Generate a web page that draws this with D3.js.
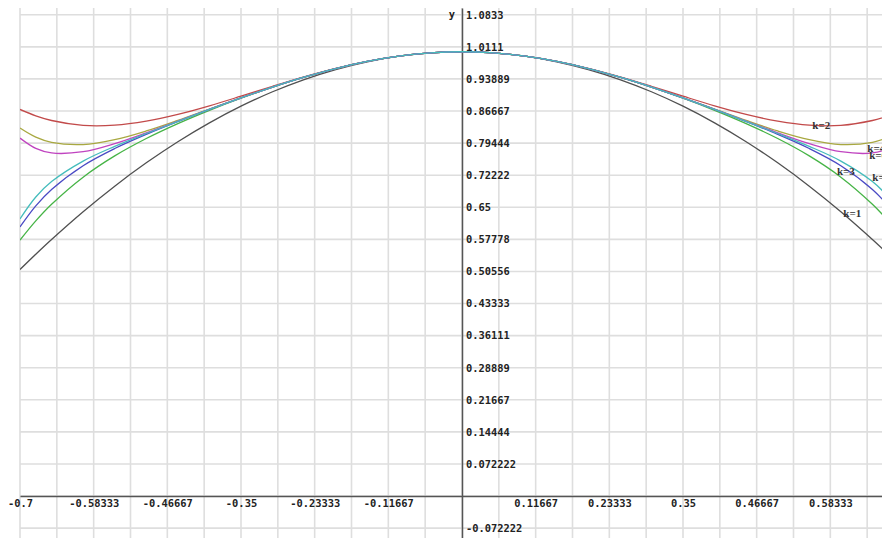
<!DOCTYPE html>
<html><head><meta charset="utf-8">
<script src="https://cdn.jsdelivr.net/npm/d3@7"></script>
<style>body{margin:0;background:#fff;overflow:hidden}svg{display:block}</style>
</head><body>
<svg id="c" width="882" height="538"></svg>
<script>
// sample x positions
const xs = [-0.7,-0.675,-0.65,-0.6,-0.55,-0.5,-0.45,-0.4,-0.35,-0.3,-0.25,-0.2,-0.15,-0.1,-0.05,0,0.05,0.1,0.15,0.2,0.25,0.3,0.35,0.4,0.45,0.5,0.55,0.6,0.65,0.675,0.7];
// series values (k = 1..7)
const k1 = [0.51,0.5444,0.5775,0.64,0.6975,0.75,0.7975,0.84,0.8775,0.91,0.9375,0.96,0.9775,0.99,0.9975,1,0.9975,0.99,0.9775,0.96,0.9375,0.91,0.8775,0.84,0.7975,0.75,0.6975,0.64,0.5775,0.5444,0.51];
const k2 = [0.8702,0.8558,0.8453,0.8344,0.8348,0.8438,0.8590,0.8784,0.9000,0.9222,0.9434,0.9624,0.9783,0.9902,0.9975,1,0.9975,0.9902,0.9783,0.9624,0.9434,0.9222,0.9000,0.8784,0.8590,0.8438,0.8348,0.8344,0.8453,0.8558,0.8702];
const k3 = [0.5760,0.6193,0.6567,0.7178,0.7656,0.8047,0.8383,0.8682,0.8954,0.9203,0.9427,0.9622,0.9782,0.9901,0.9975,1,0.9975,0.9901,0.9782,0.9622,0.9427,0.9203,0.8954,0.8682,0.8383,0.8047,0.7656,0.7178,0.6567,0.6193,0.5760];
const k4 = [0.8282,0.8078,0.7961,0.7912,0.8022,0.8218,0.8456,0.8710,0.8964,0.9206,0.9428,0.9623,0.9782,0.9901,0.9975,1,0.9975,0.9901,0.9782,0.9623,0.9428,0.9206,0.8964,0.8710,0.8456,0.8218,0.8022,0.7912,0.7961,0.8078,0.8282];
const k5 = [0.6058,0.6532,0.6901,0.7436,0.7822,0.8141,0.8429,0.8702,0.8962,0.9206,0.9428,0.9623,0.9782,0.9901,0.9975,1,0.9975,0.9901,0.9782,0.9623,0.9428,0.9206,0.8962,0.8702,0.8429,0.8141,0.7822,0.7436,0.6901,0.6532,0.6058];
const k6 = [0.8056,0.7824,0.7722,0.7751,0.7933,0.8176,0.8439,0.8704,0.8962,0.9206,0.9428,0.9623,0.9782,0.9901,0.9975,1,0.9975,0.9901,0.9782,0.9623,0.9428,0.9206,0.8962,0.8704,0.8439,0.8176,0.7933,0.7751,0.7722,0.7824,0.8056];
const k7 = [0.6238,0.6731,0.7078,0.7540,0.7871,0.8160,0.8435,0.8704,0.8962,0.9206,0.9428,0.9623,0.9782,0.9901,0.9975,1,0.9975,0.9901,0.9782,0.9623,0.9428,0.9206,0.8962,0.8704,0.8435,0.8160,0.7871,0.7540,0.7078,0.6731,0.6238];
const seriesNames = ["k=1","k=2","k=3","k=4","k=5","k=6","k=7"];
const seriesColors = ["#505050","#c24a4a","#46b446","#a8a840","#4a4ac4","#c044c0","#44bcbc"];
// curve label anchors (data coords)
const labelX = [0.618,0.569,0.608,0.656,0.695,0.659,0.664];
const labelY = [0.637,0.835,0.731,0.783,0.660,0.767,0.718];
// ticks
const xTickValues = [-0.7,-0.58333,-0.46667,-0.35,-0.23333,-0.11667,0.11667,0.23333,0.35,0.46667,0.58333];
const xTickLabels = ["-0.7","-0.58333","-0.46667","-0.35","-0.23333","-0.11667","0.11667","0.23333","0.35","0.46667","0.58333"];
const yTickValues = [-0.072222,0.072222,0.14444,0.21667,0.28889,0.36111,0.43333,0.50556,0.57778,0.65,0.72222,0.79444,0.86667,0.93889,1.0111,1.0833];
const yTickLabels = ["-0.072222","0.072222","0.14444","0.21667","0.28889","0.36111","0.43333","0.50556","0.57778","0.65","0.72222","0.79444","0.86667","0.93889","1.0111","1.0833"];
const xGridStep = 0.0583333, yGridStep = 0.0722222;

const series = [k1,k2,k3,k4,k5,k6,k7];
const svg = d3.select("#c");
const x = d3.scaleLinear().domain([-0.7,0.7]).range([20,904]);
const y = d3.scaleLinear().domain([-0.0944,1.0985]).range([538,8]);

svg.append("defs").append("clipPath").attr("id","clip")
  .append("rect").attr("x",20).attr("y",8).attr("width",884).attr("height",530);

// grid
const gx = d3.range(0,25).map(i => -0.7 + i*xGridStep);
const gy = d3.range(-1,16).map(j => j*yGridStep);
const grid = svg.append("g").attr("stroke","#dedede").attr("stroke-width",1.6);
grid.selectAll("line.v").data(gx).join("line").attr("class","v")
  .attr("x1",d=>x(d)).attr("x2",d=>x(d)).attr("y1",8).attr("y2",538);
grid.selectAll("line.h").data(gy).join("line").attr("class","h")
  .attr("x1",20).attr("x2",904).attr("y1",d=>y(d)).attr("y2",d=>y(d));

// axes
const fontMono = "'DejaVu Sans Mono', 'Liberation Mono', monospace";
const xAxis = svg.append("g").attr("transform",`translate(0,${y(0)})`)
  .call(d3.axisBottom(x).tickValues(xTickValues).tickFormat((d,i)=>xTickLabels[i]).tickSize(0).tickPadding(4));
xAxis.select(".domain").attr("stroke","#555").attr("stroke-width",1.5);
xAxis.selectAll("text").attr("font-family",fontMono).attr("font-weight","bold").attr("font-size","10.4px").attr("fill","#222");

const yAxis = svg.append("g").attr("transform",`translate(${x(0)},0)`)
  .call(d3.axisRight(y).tickValues(yTickValues).tickFormat((d,i)=>yTickLabels[i]).tickSize(0).tickPadding(4));
yAxis.select(".domain").attr("stroke","#555").attr("stroke-width",1.5);
yAxis.selectAll("text").attr("font-family",fontMono).attr("font-weight","bold").attr("font-size","10.4px").attr("fill","#222");

svg.append("text").attr("x",x(0)-10).attr("y",y(1.0833)).attr("dy","0.32em")
  .attr("text-anchor","middle").attr("font-family",fontMono).attr("font-weight","bold")
  .attr("font-size","10.4px").attr("fill","#222").text("y");

// curves
const line = d3.line().x((d,i)=>x(xs[i])).y(d=>y(d)).curve(d3.curveCatmullRom.alpha(0.5));
const cg = svg.append("g").attr("clip-path","url(#clip)");
series.forEach((s,i)=>{
  cg.append("path").attr("d",line(s)).attr("fill","none")
    .attr("stroke",seriesColors[i]).attr("stroke-width",1.3);
});
// labels
seriesNames.forEach((n,i)=>{
  svg.append("text").attr("x",x(labelX[i])).attr("y",y(labelY[i])).attr("dy","0.35em")
    .attr("text-anchor","middle").attr("font-family","'Liberation Serif', 'DejaVu Serif', serif")
    .attr("font-weight","bold").attr("font-size","11px").attr("fill","#333").text(n);
});
</script>
</body></html>
